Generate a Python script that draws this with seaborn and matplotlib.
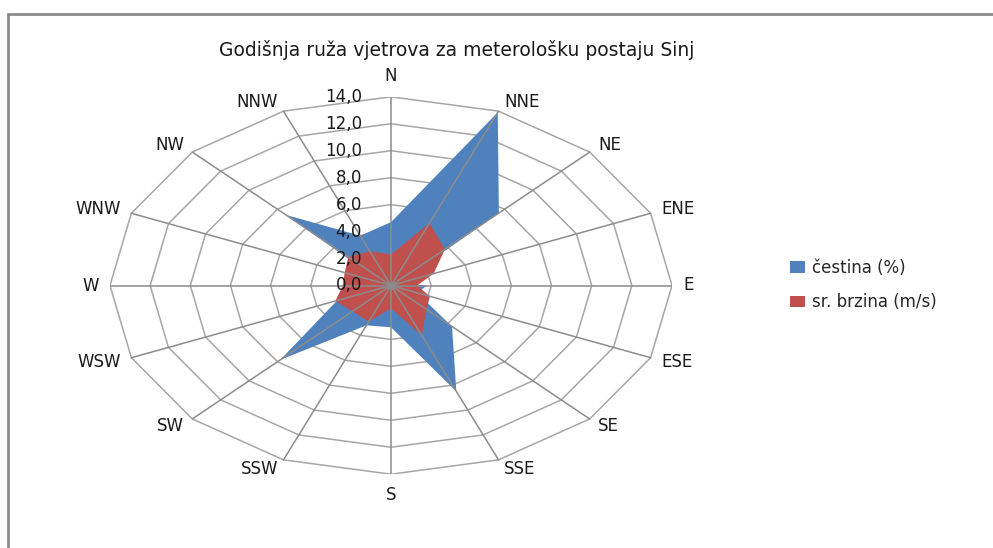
import numpy as np
import matplotlib
matplotlib.use("Agg")
import matplotlib.pyplot as plt
from matplotlib.patches import Rectangle
import seaborn as sns

directions = ["N", "NNE", "NE", "ENE", "E", "ESE", "SE", "SSE",
              "S", "SSW", "SW", "WSW", "W", "WNW", "NW", "NNW"]
cestina = [4.7, 13.9, 7.6, 0.4, 1.8, 1.4, 4.3, 8.5,
           3.1, 3.2, 7.8, 2.9, 0.8, 0.4, 7.4, 4.0]
brzina = [2.3, 5.0, 3.8, 2.3, 1.3, 2.1, 2.5, 4.0,
          1.7, 2.9, 2.7, 3.0, 2.4, 2.5, 3.0, 2.75]
rings = [0, 2, 4, 6, 8, 10, 12, 14]
ring_labels = ["0,0", "2,0", "4,0", "6,0", "8,0", "10,0", "12,0", "14,0"]
series_names = ["čestina (%)", "sr. brzina (m/s)"]
colors = ["#4F81BD", "#C0504D"]

sns.set_theme(style="white")
plt.rcParams["font.family"] = ["DejaVu Sans"]

angles = np.deg2rad(np.arange(len(directions)) * 360 / len(directions))


def to_xy(values):
    v = np.asarray(values, dtype=float)
    return v * np.sin(angles), v * np.cos(angles)


fig = plt.figure(figsize=(9.93, 5.48), dpi=100)
ax = fig.add_axes([110 / 993, (548 - 474.2) / 548, 562 / 993, 377.4 / 548])
ax.set_xlim(-14, 14)
ax.set_ylim(-14, 14)
ax.axis("off")

# polygon grid
for r in rings[1:]:
    x, y = to_xy([r] * len(directions))
    ax.plot(np.append(x, x[0]), np.append(y, y[0]), color="#a6a6a6", lw=1.1, zorder=1)

handles = []
for name, vals, col in zip(series_names, [cestina, brzina], colors):
    x, y = to_xy(vals)
    h = ax.fill(x, y, color=col, lw=0, zorder=2, label=name)[0]
    handles.append(h)

# spokes
xs, ys = to_xy([rings[-1]] * len(directions))
for x1, y1 in zip(xs, ys):
    ax.plot([0, x1], [0, y1], color="#8c8c8c", lw=1.1, zorder=3)
ax.plot(0, 0, "o", color="#8c8c8c", ms=4, zorder=4)

# direction labels
for name, a, x1, y1 in zip(directions, angles, xs, ys):
    s, c = np.sin(a), np.cos(a)
    if abs(s) < 0.01:
        ha, dx, dy = "center", 0, 21 * np.sign(c)
    else:
        ha = "left" if s > 0 else "right"
        dx = (2 + 9 * abs(s)) * np.sign(s)
        dy = 10 * c
    ax.annotate(name, (x1, y1), xytext=(dx, dy), textcoords="offset pixels",
                ha=ha, va="center", fontsize=12, color="#1a1a1a", annotation_clip=False)

# radial tick labels
for r, lab in zip(rings, ring_labels):
    ax.annotate(lab, (0, r), xytext=(-29, 0), textcoords="offset pixels",
                ha="right", va="center", fontsize=12, color="#1a1a1a", zorder=5,
                annotation_clip=False)

fig.text(457 / 993, 1 - 50 / 548, "Godišnja ruža vjetrova za meterološku postaju Sinj",
         ha="center", va="center", fontsize=13.5, color="#1a1a1a")

fig.legend(handles=handles, labels=series_names, loc="center left",
           bbox_to_anchor=(775 / 993, 1 - 285 / 548), frameon=False, fontsize=12,
           handlelength=0.9, handleheight=0.7, handletextpad=0.45, labelspacing=1.0)

fig.add_artist(Rectangle((8 / 993, -0.1), 1.2, 1.1 - 14 / 548, transform=fig.transFigure,
                         fill=False, edgecolor="#8c8c8c", lw=2))

fig.savefig("out.png", dpi=100)
